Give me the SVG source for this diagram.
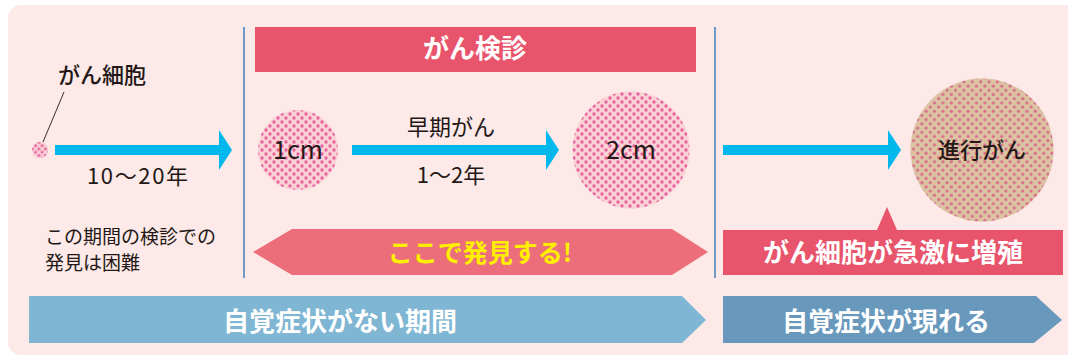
<svg xmlns="http://www.w3.org/2000/svg" width="1068" height="360" viewBox="0 0 1068 360">
  <defs>
    <pattern id="dotsPink" width="8" height="8" patternUnits="userSpaceOnUse">
      <rect width="8" height="8" fill="#fbd2d5"/>
      <circle cx="2" cy="2" r="1.65" fill="#e9609f"/>
      <circle cx="6" cy="6" r="1.65" fill="#e9609f"/>
    </pattern>
    <pattern id="dotsBeige" width="8.4" height="8.4" patternUnits="userSpaceOnUse">
      <rect width="8.4" height="8.4" fill="#dcc4a3"/>
      <circle cx="2.1" cy="2.1" r="1.65" fill="#d96f8c"/>
      <circle cx="6.3" cy="6.3" r="1.65" fill="#d96f8c"/>
    </pattern>
    <pattern id="dotsCell" width="6.5" height="6.5" patternUnits="userSpaceOnUse" x="34" y="144">
      <rect width="6.5" height="6.5" fill="#f9cdd3"/>
      <circle cx="1.6" cy="1.6" r="1.4" fill="#e9609f"/>
      <circle cx="4.9" cy="4.9" r="1.4" fill="#e9609f"/>
    </pattern>
  </defs>
  <style>
    text { font-family: "Noto Sans CJK JP", "Noto Sans", sans-serif; fill: #231815; }
    .lbl { font-size: 22px; }
    .mid { text-anchor: middle; }
    .bold { font-weight: 700; }
    .white { fill: #ffffff; }
    .yellow { fill: #fff000; }
    .blue { fill: #00b8ec; }
    .vline { stroke: #4a86c0; stroke-width: 1.6; }
  </style>

  <rect x="8" y="5" width="1080" height="350" rx="13" fill="#fce9e8"/>

  <g id="dividers">
    <line class="vline" x1="244" y1="27" x2="244" y2="278"/>
    <line class="vline" x1="715" y1="27" x2="715" y2="278"/>
  </g>

  <g id="connectors">
    <polygon class="blue" points="55,145 219,145 219,130 232,150 219,170 219,155 55,155"/>
    <polygon class="blue" points="352,145 546,145 546,130 559,150 546,170 546,155 352,155"/>
    <polygon class="blue" points="723,145 888,145 888,130 901,150 888,170 888,155 723,155"/>
    <line x1="43" y1="142" x2="64" y2="92" stroke="#231815" stroke-width="0.9"/>
  </g>

  <g id="kenshin-banner">
    <rect x="255" y="27" width="441" height="45" fill="#e8546b"/>
    <text class="mid bold white" x="475" y="58" font-size="26">がん検診</text>
  </g>

  <g id="cell">
    <circle cx="40" cy="150" r="8" fill="url(#dotsCell)"/>
    <text class="lbl" x="58" y="83" font-weight="500">がん細胞</text>
  </g>

  <g id="label-10-20">
    <text class="lbl" x="87" y="184" textLength="101" lengthAdjust="spacing">10〜20年</text>
  </g>

  <g id="circle-1cm">
    <circle cx="298" cy="150" r="40" fill="url(#dotsPink)"/>
    <text class="mid" x="298" y="159" font-size="25">1cm</text>
  </g>

  <g id="label-early">
    <text class="lbl mid" x="451" y="135">早期がん</text>
    <text class="lbl mid" x="451" y="183">1〜2年</text>
  </g>

  <g id="circle-2cm">
    <circle cx="631" cy="150" r="58.5" fill="url(#dotsPink)"/>
    <text class="mid" x="631" y="159" font-size="25">2cm</text>
  </g>

  <g id="circle-advanced">
    <circle cx="982" cy="150" r="71.5" fill="url(#dotsBeige)"/>
    <text class="lbl mid" x="982" y="158" font-weight="500">進行がん</text>
  </g>

  <g id="note-difficult">
    <text x="45" y="244" font-size="19" fill="#333">この期間の検診での</text>
    <text x="45" y="270" font-size="19" fill="#333">発見は困難</text>
  </g>

  <g id="discover-here">
    <polygon points="253,252 292,229 672,229 708,252 672,275 292,275" fill="#eb6e7a"/>
    <text class="mid bold yellow" x="480" y="262" font-size="25">ここで発見する!</text>
  </g>

  <g id="rapid-growth">
    <polygon points="723,230 877,230 887,207 897,230 1063,230 1063,275 723,275" fill="#e8546b"/>
    <text class="mid bold white" x="893" y="262" font-size="26">がん細胞が急激に増殖</text>
  </g>

  <g id="no-symptoms">
    <polygon points="29,296 682,296 706,320 682,343 29,343" fill="#7fb6d3"/>
    <text class="mid bold white" x="340" y="331" font-size="26">自覚症状がない期間</text>
  </g>

  <g id="symptoms-appear">
    <polygon points="723,296 1036,296 1062,320 1034,343 723,343" fill="#6899bd"/>
    <text class="mid bold white" x="886" y="331" font-size="26">自覚症状が現れる</text>
  </g>
</svg>
